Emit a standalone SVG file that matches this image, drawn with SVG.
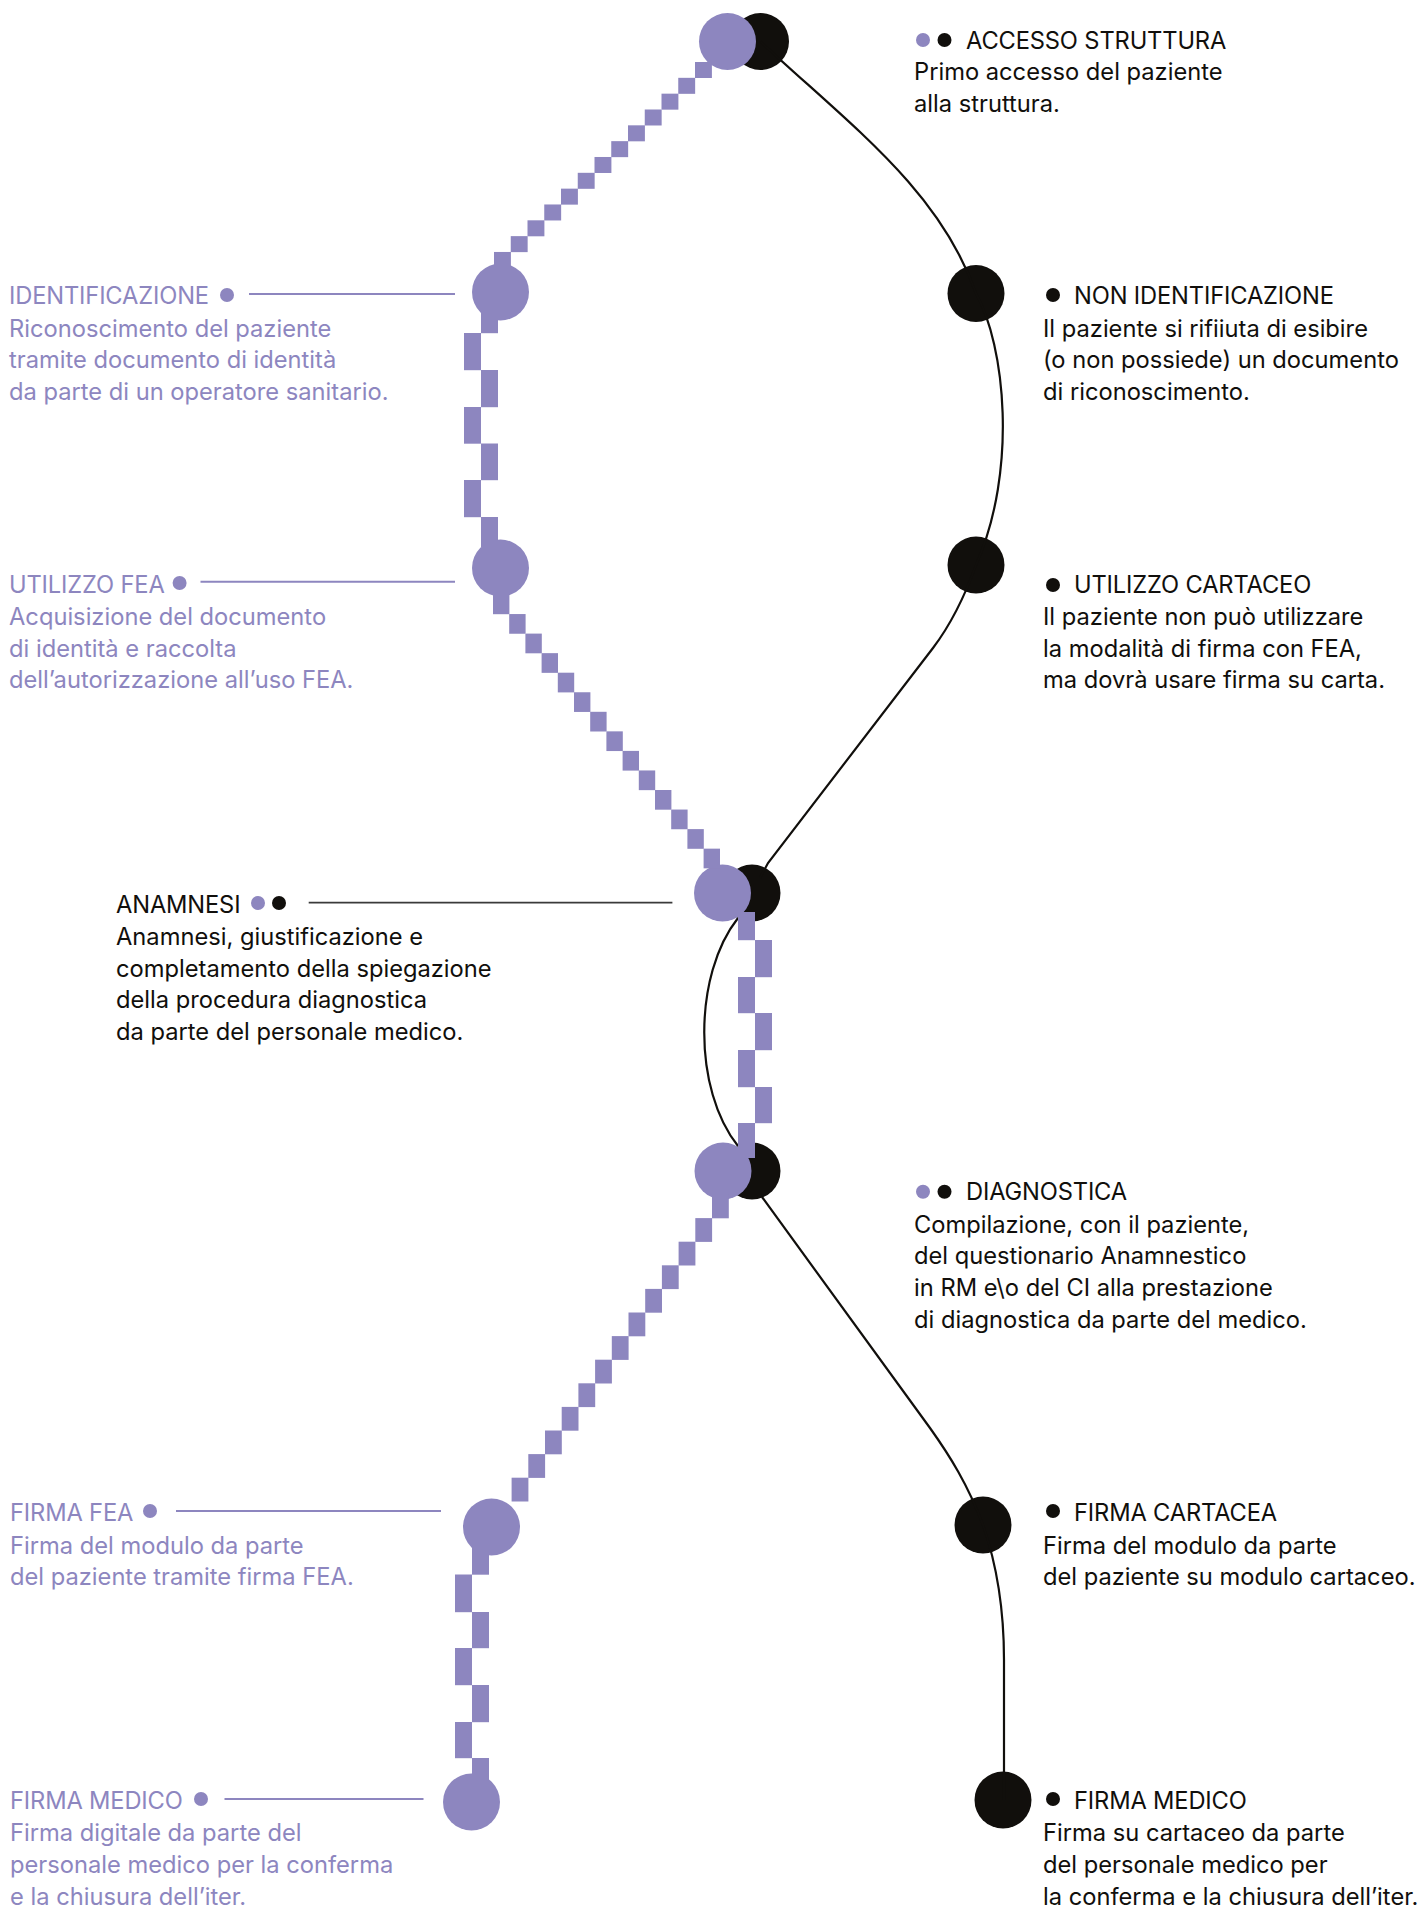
<svg xmlns="http://www.w3.org/2000/svg" width="1421" height="1908" viewBox="0 0 1421 1908">
<style>
text{font-family:"Inter","Liberation Sans",sans-serif;font-size:23.7px}
.t{letter-spacing:-0.15px}
.k{fill:#110f0c}
.p{fill:#8d86bf}
.line{fill:none;stroke:#110f0c;stroke-width:2.2}
.lead{stroke:#8d86bf;stroke-width:2;fill:none}
.leadk{stroke:#3a3a3a;stroke-width:1.8;fill:none}
</style>
<rect width="1421" height="1908" fill="#ffffff"/>

<g id="node-accesso">
<circle class="k" cx="760.5" cy="41.5" r="28.5"/>
<circle class="p" cx="727.5" cy="41.5" r="28.5"/>
<circle class="p" cx="923" cy="40" r="7"/>
<circle class="k" cx="944.5" cy="40" r="7"/>
<text class="k t" x="966" y="48.5">ACCESSO STRUTTURA</text>
<text class="k" x="914" y="80">Primo accesso del paziente</text>
<text class="k" x="914" y="111.7">alla struttura.</text>
</g>

<g id="node-identificazione">
<circle class="p" cx="500.5" cy="292" r="28.5"/>
<text class="p t" x="9" y="304">IDENTIFICAZIONE</text>
<circle class="p" cx="227" cy="295" r="7"/>
<text class="p" x="9" y="336.7">Riconoscimento del paziente</text>
<text class="p" x="9" y="368.3">tramite documento di identità</text>
<text class="p" x="9" y="400">da parte di un operatore sanitario.</text>
</g>

<g id="node-non-identificazione">
<circle class="k" cx="976" cy="293.5" r="28.5"/>
<circle class="k" cx="1053" cy="295" r="7"/>
<text class="k t" x="1074" y="304">NON IDENTIFICAZIONE</text>
<text class="k" x="1043" y="336.7">Il paziente si rifiiuta di esibire</text>
<text class="k" x="1043" y="368.3">(o non possiede) un documento</text>
<text class="k" x="1043" y="400">di riconoscimento.</text>
</g>

<g id="node-utilizzo-fea">
<circle class="p" cx="500.5" cy="568" r="28.5"/>
<text class="p t" x="9" y="592.7">UTILIZZO FEA</text>
<circle class="p" cx="179.6" cy="583" r="7"/>
<text class="p" x="9" y="625">Acquisizione del documento</text>
<text class="p" x="9" y="656.7">di identità e raccolta</text>
<text class="p" x="9" y="688.3">dell’autorizzazione all’uso FEA.</text>
</g>

<g id="node-utilizzo-cartaceo">
<circle class="k" cx="976" cy="565" r="28.5"/>
<circle class="k" cx="1053" cy="585" r="7"/>
<text class="k t" x="1074" y="592.7">UTILIZZO CARTACEO</text>
<text class="k" x="1043" y="625">Il paziente non può utilizzare</text>
<text class="k" x="1043" y="656.7">la modalità di firma con FEA,</text>
<text class="k" x="1043" y="688.3">ma dovrà usare firma su carta.</text>
</g>

<g id="node-anamnesi">
<circle class="k" cx="752" cy="893" r="28.5"/>
<circle class="p" cx="722.5" cy="893" r="28.5"/>
<text class="k t" x="116" y="912.7">ANAMNESI</text>
<circle class="p" cx="258" cy="903" r="7"/>
<circle class="k" cx="279" cy="903" r="7"/>
<text class="k" x="116" y="945">Anamnesi, giustificazione e</text>
<text class="k" x="116" y="976.7">completamento della spiegazione</text>
<text class="k" x="116" y="1008.3">della procedura diagnostica</text>
<text class="k" x="116" y="1040">da parte del personale medico.</text>
</g>

<g id="node-diagnostica">
<circle class="k" cx="752" cy="1171" r="28.5"/>
<circle class="p" cx="723" cy="1171" r="28.5"/>
<circle class="p" cx="923" cy="1191.7" r="7"/>
<circle class="k" cx="944.5" cy="1191.7" r="7"/>
<text class="k t" x="966" y="1200">DIAGNOSTICA</text>
<text class="k" x="914" y="1232.7">Compilazione, con il paziente,</text>
<text class="k" x="914" y="1264.3">del questionario Anamnestico</text>
<text class="k" x="914" y="1296">in RM e\o del CI alla prestazione</text>
<text class="k" x="914" y="1327.7">di diagnostica da parte del medico.</text>
</g>

<g id="node-firma-fea">
<circle class="p" cx="491.5" cy="1527" r="28.5"/>
<text class="p t" x="10" y="1521">FIRMA FEA</text>
<circle class="p" cx="150" cy="1511" r="7"/>
<text class="p" x="10" y="1553.5">Firma del modulo da parte</text>
<text class="p" x="10" y="1585">del paziente tramite firma FEA.</text>
</g>

<g id="node-firma-cartacea">
<circle class="k" cx="983" cy="1525" r="28.5"/>
<circle class="k" cx="1053" cy="1511" r="7"/>
<text class="k t" x="1074" y="1521">FIRMA CARTACEA</text>
<text class="k" x="1043" y="1553.5">Firma del modulo da parte</text>
<text class="k" x="1043" y="1585">del paziente su modulo cartaceo.</text>
</g>

<g id="node-firma-medico-fea">
<circle class="p" cx="471.5" cy="1802" r="28.5"/>
<text class="p t" x="10" y="1808.7">FIRMA MEDICO</text>
<circle class="p" cx="201" cy="1799" r="7"/>
<text class="p" x="10" y="1841">Firma digitale da parte del</text>
<text class="p" x="10" y="1873">personale medico per la conferma</text>
<text class="p" x="10" y="1905">e la chiusura dell’iter.</text>
</g>

<g id="node-firma-medico-cartaceo">
<circle class="k" cx="1003" cy="1800" r="28.5"/>
<circle class="k" cx="1053" cy="1799" r="7"/>
<text class="k t" x="1074" y="1808.7">FIRMA MEDICO</text>
<text class="k" x="1043" y="1841">Firma su cartaceo da parte</text>
<text class="k" x="1043" y="1873">del personale medico per</text>
<text class="k" x="1043" y="1905">la conferma e la chiusura dell’iter.</text>
</g>

<g id="connectors">
<path class="line" d="M760.5,41.5 C850,125 940,190 976,293.5 C1005,345 1018,470 976,565 Q958,615 933,648 L768,863 L760,878"/>
<path class="line" d="M738,918 C693,975 693,1090 738,1146"/>
<path class="line" d="M762,1197 L930,1428 C950,1456 968,1485 983,1525 C998,1568 1004,1610 1004,1660 L1004,1800"/>
<g id="leaders">
<line class="lead" x1="249" y1="294" x2="455" y2="294"/>
<line class="lead" x1="200.5" y1="581.7" x2="455" y2="581.7"/>
<line class="leadk" x1="308.7" y1="902.7" x2="672.4" y2="902.7"/>
<line class="lead" x1="176" y1="1511" x2="441" y2="1511"/>
<line class="lead" x1="224.5" y1="1799" x2="423.5" y2="1799"/>
</g>
<g id="fea-steps" class="p">
<rect x="695" y="62" width="16.9" height="16"/>
<rect x="678.25" y="77.83" width="16.9" height="16"/>
<rect x="661.5" y="93.66" width="16.9" height="16"/>
<rect x="644.75" y="109.49" width="16.9" height="16"/>
<rect x="628" y="125.32" width="16.9" height="16"/>
<rect x="611.25" y="141.15" width="16.9" height="16"/>
<rect x="594.5" y="156.98" width="16.9" height="16"/>
<rect x="577.75" y="172.81" width="16.9" height="16"/>
<rect x="561" y="188.64" width="16.9" height="16"/>
<rect x="544.25" y="204.47" width="16.9" height="16"/>
<rect x="527.5" y="220.3" width="16.9" height="16"/>
<rect x="510.75" y="236.13" width="16.9" height="16"/>
<rect x="494" y="251.96" width="16.9" height="16"/>

<rect x="481" y="305" width="17" height="28.2"/>
<rect x="464" y="333" width="17" height="37.2"/>
<rect x="481" y="370" width="17" height="37.2"/>
<rect x="464" y="407" width="17" height="36.7"/>
<rect x="481" y="443.5" width="17" height="36.7"/>
<rect x="464" y="480" width="17" height="37.2"/>
<rect x="481" y="517" width="17" height="30"/>

<rect x="493" y="594.5" width="16.4" height="19.7"/>
<rect x="509.2" y="614.05" width="16.4" height="19.7"/>
<rect x="525.4" y="633.6" width="16.4" height="19.7"/>
<rect x="541.6" y="653.15" width="16.4" height="19.7"/>
<rect x="557.8" y="672.7" width="16.4" height="19.7"/>
<rect x="574" y="692.25" width="16.4" height="19.7"/>
<rect x="590.2" y="711.8" width="16.4" height="19.7"/>
<rect x="606.4" y="731.35" width="16.4" height="19.7"/>
<rect x="622.6" y="750.9" width="16.4" height="19.7"/>
<rect x="638.8" y="770.45" width="16.4" height="19.7"/>
<rect x="655" y="790" width="16.4" height="19.7"/>
<rect x="671.2" y="809.55" width="16.4" height="19.7"/>
<rect x="687.4" y="829.1" width="16.4" height="19.7"/>
<rect x="703.6" y="848.65" width="16.4" height="19.7"/>

<rect x="738" y="912" width="17" height="28.2"/>
<rect x="755" y="940" width="17" height="37.2"/>
<rect x="738" y="977" width="17" height="36.2"/>
<rect x="755" y="1013" width="17" height="37.2"/>
<rect x="738" y="1050" width="17" height="37.2"/>
<rect x="755" y="1087" width="17" height="36.2"/>
<rect x="738" y="1123" width="17" height="35"/>

<rect x="712" y="1194.5" width="16.8" height="23.8"/>
<rect x="695.3" y="1218.1" width="16.8" height="23.8"/>
<rect x="678.6" y="1241.7" width="16.8" height="23.8"/>
<rect x="661.9" y="1265.3" width="16.8" height="23.8"/>
<rect x="645.2" y="1288.9" width="16.8" height="23.8"/>
<rect x="628.5" y="1312.5" width="16.8" height="23.8"/>
<rect x="611.8" y="1336.1" width="16.8" height="23.8"/>
<rect x="595.1" y="1359.7" width="16.8" height="23.8"/>
<rect x="578.4" y="1383.3" width="16.8" height="23.8"/>
<rect x="561.7" y="1406.9" width="16.8" height="23.8"/>
<rect x="545" y="1430.5" width="16.8" height="23.8"/>
<rect x="528.3" y="1454.1" width="16.8" height="23.8"/>
<rect x="511.6" y="1477.7" width="16.8" height="23.8"/>

<rect x="472" y="1540" width="17" height="34.7"/>
<rect x="455" y="1574.5" width="17" height="37.7"/>
<rect x="472" y="1612" width="17" height="36.2"/>
<rect x="455" y="1648" width="17" height="37.2"/>
<rect x="472" y="1685" width="17" height="37.2"/>
<rect x="455" y="1722" width="17" height="36.2"/>
<rect x="472" y="1758" width="17" height="25"/>
</g>
</g>
</svg>
